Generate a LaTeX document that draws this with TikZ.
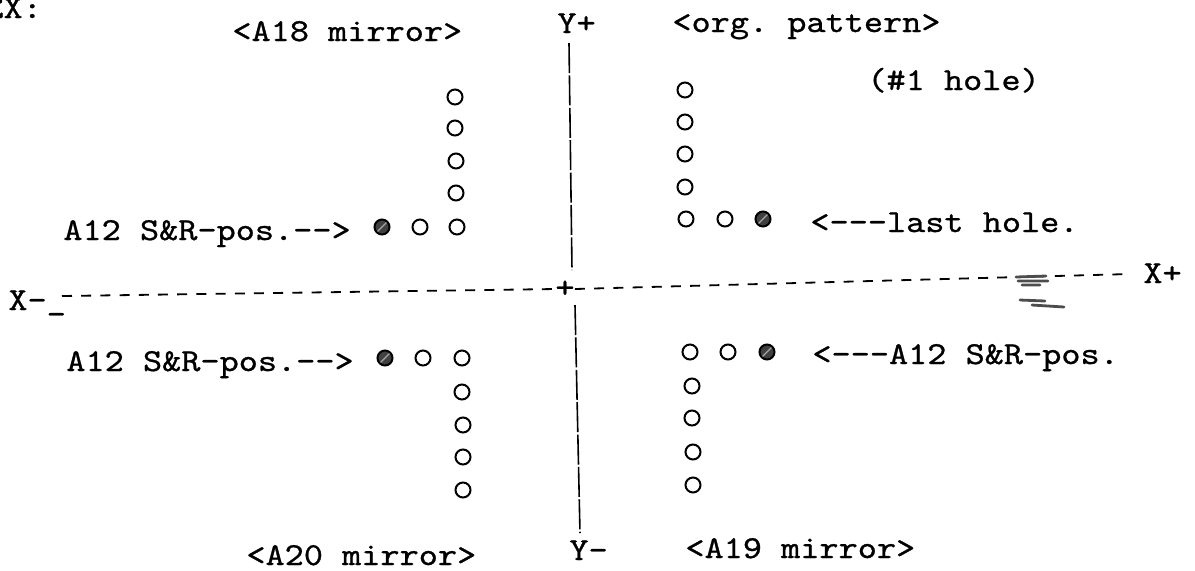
\documentclass[tikz,border=0pt]{standalone}
\usepackage{fontspec}
\setmonofont{lmmono10-regular.otf}[FakeStretch=1.14,FakeBold=0.8]
\newcommand\typew{\ttfamily\fontsize{16pt}{18pt}\selectfont}
\begin{document}
\begin{tikzpicture}[x=0.5pt,y=-0.5pt,
		txt/.style={font=\typew,inner sep=0pt,anchor=base west},
		hole/.style={circle,draw,line width=1pt,inner sep=0pt,minimum size=7.5pt},
		lasthole/.style={hole,fill=black!75,path picture={\draw[black!35,line width=0.6pt]
			(path picture bounding box.south west) -- (path picture bounding box.north east);}},
		xaxis/.style={line width=0.9pt,dash pattern=on 5pt off 4.6pt},
		yaxis/.style={line width=0.8pt,dash pattern=on 15pt off 1.2pt}]
		\useasboundingbox (0,0) rectangle (1195,570);
		% labels
		\node[txt] (ex) at (-16,18) {EX:};
		\node[txt] (a18) at (232,41) {<A18 mirror>};
		\node[txt] (yplus) at (557,33) {Y+};
		\node[txt] (orgpat) at (672,32) {<org. pattern>};
		\node[txt] (first) at (867,90) {(\#1 hole)};
		\node[txt] (srUL) at (63,240) {A12 S\&R-pos.-{}->};
		\node[txt] (last) at (810,232) {<-{}-{}-last hole.};
		\node[txt] (xminus) at (8,310) {X-\_};
		\node[txt] (xplus) at (1143,283) {X+};
		\node[txt] (srLL) at (66,371) {A12 S\&R-pos.-{}->};
		\node[txt] (srLR) at (812,364) {<-{}-{}-A12 S\&R-pos.};
		\node[txt] (a20) at (246,565) {<A20 mirror>};
		\node[txt] (yminus) at (569,560) {Y-};
		\node[txt] (a19) at (685,558) {<A19 mirror>};
		% axes
		\node[font=\typew,inner sep=0pt] (orig) at (565,289) {+};
		\coordinate (xl) at (62,296);
		\coordinate (xr) at (1130,274);
		\coordinate (yt) at (569,43);
		\coordinate (yu) at (572,270);
		\coordinate (yd) at (575,305);
		\coordinate (yb) at (580,533);
		\draw[xaxis] (xl) -- (orig.west);
		\draw[xaxis] (orig.east) -- (xr);
		\draw[yaxis] (yt) -- (yu);
		\draw[yaxis] (yd) -- (yb);
		% holes
		\foreach \Point/\Name in {(455,97)/ulA,(455,128)/ulB,(456,161)/ulC,(456,193)/ulD,(457,227)/ulE,(420,227)/ulF,
			(685,90)/urA,(685,122)/urB,(685,154)/urC,(685,187)/urD,(686,219)/urE,(725,219)/urF,
			(462,358)/llA,(462,392)/llB,(463,425)/llC,(463,457)/llD,(463,490)/llE,(423,358)/llF,
			(690,352)/lrA,(692,386)/lrB,(692,418)/lrC,(693,452)/lrD,(693,485)/lrE,(728,352)/lrF}
		\node[hole] (\Name) at \Point {};
		\foreach \Point/\Name in {(382,227)/ulX,(763,219)/urX,(385,358)/llX,(767,352)/lrX}
		\node[lasthole] (\Name) at \Point {};
		% smudge
		\draw[line width=1.4pt,black!70,line cap=round] (1016,277)--(1046,276) (1018,281)--(1048,281) (1022,285)--(1040,285)
			(1020,300)--(1045,301) (1032,305)--(1064,307);
	\end{tikzpicture}
\end{document}
